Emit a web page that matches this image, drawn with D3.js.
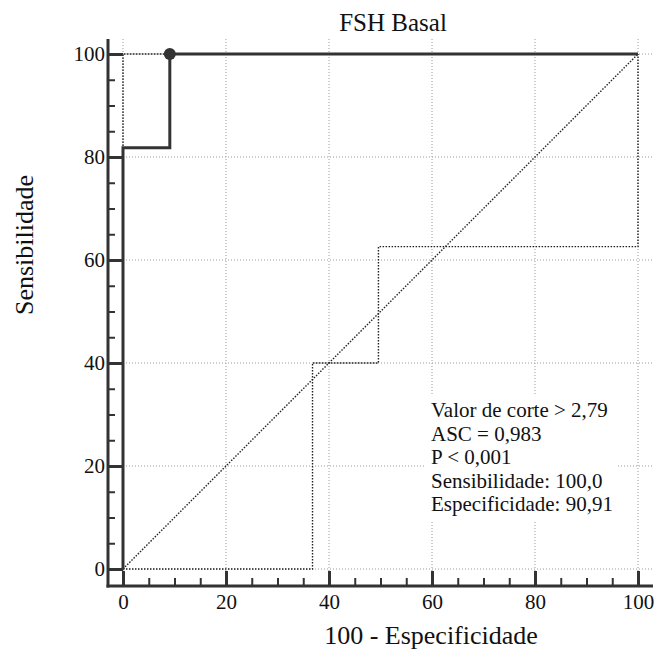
<!DOCTYPE html>
<html>
<head>
<meta charset="utf-8">
<script src="https://cdn.jsdelivr.net/npm/d3@7/dist/d3.min.js"></script>
<style>
  html, body { margin: 0; padding: 0; background: #fff; }
  svg { display: block; }
  text { font-family: "Liberation Serif", "Times New Roman", serif; fill: #111; }
</style>
</head>
<body>
<svg id="chart" width="659" height="651"></svg>
<script>
// ROC curve (100 - specificity, sensitivity)
const rocX = [0, 0, 9.09, 9.09, 100];
const rocY = [0, 81.8, 81.8, 100, 100];
// lower confidence bound
const lowX = [0, 36.8, 36.8, 49.6, 49.6, 100, 100];
const lowY = [0, 0, 40, 40, 62.6, 62.6, 100];
// upper confidence bound
const upX = [0, 0, 100];
const upY = [0, 100, 100];
// optimal cut-off point
const cutX = [9.09];
const cutY = [100];

const majorTicks = [0, 20, 40, 60, 80, 100];
const minorTicks = [5, 10, 15, 25, 30, 35, 45, 50, 55, 65, 70, 75, 85, 90, 95];

const titleText = "FSH Basal";
const xTitle = "100 - Especificidade";
const yTitle = "Sensibilidade";
const statLines = [
  "Valor de corte > 2,79",
  "ASC = 0,983",
  "P < 0,001",
  "Sensibilidade: 100,0",
  "Especificidade: 90,91"
];

const ink = "#333";
const svg = d3.select("#chart");

const x = d3.scaleLinear().domain([0, 100]).range([123, 638]);
const y = d3.scaleLinear().domain([0, 100]).range([569, 54]);

// axis lines sit a little outside the data area
const axisLeftX = x(0) - 15;
const axisBottomY = y(0) + 17;
const axisTopY = y(100) - 15;
const axisRightX = x(100) + 15;

// grid
const grid = svg.append("g").attr("stroke", "#9a9a9a").attr("stroke-width", 1)
  .attr("stroke-dasharray", "1,2").attr("fill", "none");
grid.selectAll("line.v").data(majorTicks).join("line").attr("class", "v")
  .attr("x1", d => x(d)).attr("x2", d => x(d))
  .attr("y1", axisTopY).attr("y2", axisBottomY - 15);
grid.selectAll("line.h").data(majorTicks).join("line").attr("class", "h")
  .attr("y1", d => y(d)).attr("y2", d => y(d))
  .attr("x1", axisLeftX + 15).attr("x2", axisRightX);

const line = d3.line().x(d => x(d[0])).y(d => y(d[1]));
const pts = (xs, ys) => xs.map((v, i) => [v, ys[i]]);

// diagonal reference
svg.append("path").datum([[0, 0], [100, 100]]).attr("d", line)
  .attr("fill", "none").attr("stroke", "#222").attr("stroke-width", 1.4)
  .attr("stroke-dasharray", "1.5,1.5");

// confidence bounds
[pts(lowX, lowY), pts(upX, upY)].forEach(p => {
  svg.append("path").datum(p).attr("d", line)
    .attr("fill", "none").attr("stroke", "#222").attr("stroke-width", 1.4)
    .attr("stroke-dasharray", "1.5,1.5");
});

// stats box
const boxG = svg.append("g");
boxG.append("rect").attr("x", 425).attr("y", 396).attr("width", 192).attr("height", 124)
  .attr("fill", "#fff");
boxG.selectAll("text").data(statLines).join("text")
  .attr("x", 431).attr("y", (d, i) => 417 + i * 23.5)
  .attr("font-size", 21).text(d => d);

// ROC curve
svg.append("path").datum(pts(rocX, rocY)).attr("d", line)
  .attr("fill", "none").attr("stroke", ink).attr("stroke-width", 3)
  .attr("stroke-linejoin", "miter");
svg.selectAll("circle.cut").data(cutX.map((v, i) => [v, cutY[i]])).join("circle")
  .attr("class", "cut").attr("cx", d => x(d[0])).attr("cy", d => y(d[1])).attr("r", 6)
  .attr("fill", ink);

// axes
function styleAxis(g, w) {
  g.select(".domain").remove();
  g.selectAll(".tick line").attr("stroke", ink).attr("stroke-width", w);
  g.selectAll(".tick text").attr("font-size", 21).attr("fill", "#111")
    .attr("font-family", "Liberation Serif, serif");
}

const yMajor = svg.append("g").attr("transform", `translate(${axisLeftX},0)`)
  .call(d3.axisLeft(y).tickValues(majorTicks).tickSizeInner(-15).tickSizeOuter(0).tickPadding(3));
styleAxis(yMajor, 3);
const yMinor = svg.append("g").attr("transform", `translate(${axisLeftX},0)`)
  .call(d3.axisLeft(y).tickValues(minorTicks).tickSizeInner(-7).tickSizeOuter(0).tickFormat(""));
styleAxis(yMinor, 2);

const xMajor = svg.append("g").attr("transform", `translate(0,${axisBottomY})`)
  .call(d3.axisBottom(x).tickValues(majorTicks).tickSizeInner(-15).tickSizeOuter(0).tickPadding(8));
styleAxis(xMajor, 3);
const xMinor = svg.append("g").attr("transform", `translate(0,${axisBottomY})`)
  .call(d3.axisBottom(x).tickValues(minorTicks).tickSizeInner(-8).tickSizeOuter(0).tickFormat(""));
styleAxis(xMinor, 2);

svg.append("line").attr("x1", axisLeftX).attr("x2", axisLeftX)
  .attr("y1", axisTopY).attr("y2", axisBottomY + 1.5)
  .attr("stroke", ink).attr("stroke-width", 3);
svg.append("line").attr("x1", axisLeftX - 1.5).attr("x2", axisRightX)
  .attr("y1", axisBottomY).attr("y2", axisBottomY)
  .attr("stroke", ink).attr("stroke-width", 3);

// titles
svg.append("text").attr("x", 393).attr("y", 31).attr("text-anchor", "middle")
  .attr("font-size", 25).text(titleText);
svg.append("text").attr("x", 431).attr("y", 644).attr("text-anchor", "middle")
  .attr("font-size", 26).text(xTitle);
svg.append("text").attr("transform", "translate(33,245) rotate(-90)")
  .attr("text-anchor", "middle").attr("font-size", 26).text(yTitle);
</script>
</body>
</html>
